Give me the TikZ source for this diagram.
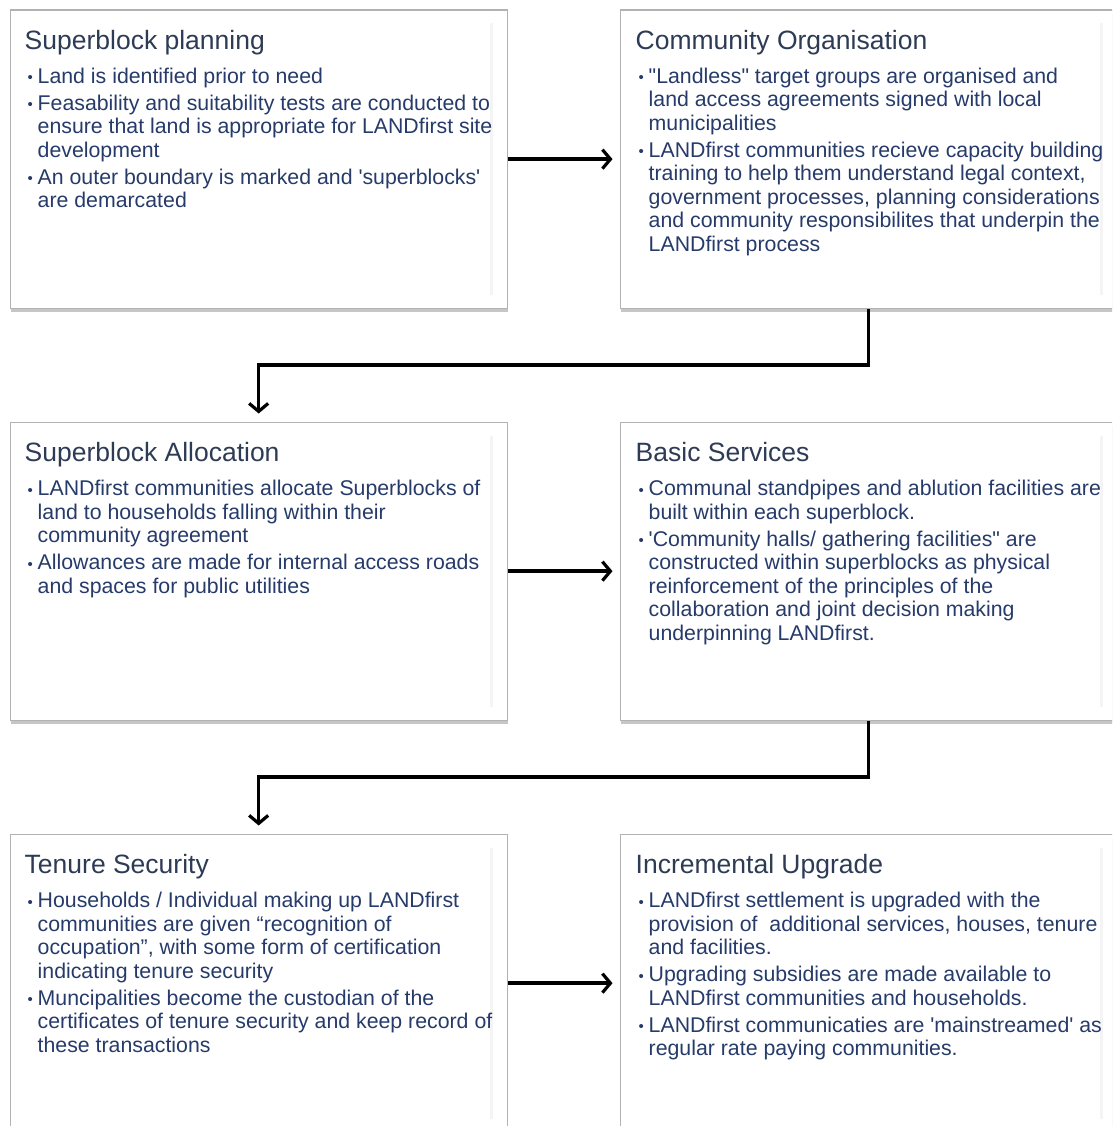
\documentclass[tikz,border=0pt]{standalone}
\usepackage{fontspec}
\newfontfamily\lib{Liberation Sans}
\usetikzlibrary{arrows.meta,shadows,calc}
\definecolor{titlecol}{HTML}{2E3B55}
\definecolor{bodycol}{HTML}{263B6A}
\newcommand{\bitem}[1]{\par\noindent\hangindent=10pt\hangafter=1\makebox[10pt][l]{\raisebox{0.5pt}{\fontsize{15}{15}\selectfont •}}#1}
\newcommand{\bulletlist}[1]{\parbox[t]{600pt}{\fontsize{21.3}{23.5}\selectfont\setlength{\parskip}{3.5pt}#1}}
\tikzset{
  panel/.style={draw=gray!60, line width=1.3pt, fill=white, minimum width=497pt,
    minimum height=298pt, anchor=north west, inner sep=0pt,
    drop shadow={shadow xshift=0.5pt, shadow yshift=-3.5pt, opacity=0.45}},
  ttl/.style={anchor=base west, inner sep=0pt, font=\lib\fontsize{26.5}{30}\selectfont, text=titlecol},
  body/.style={anchor=base west, inner sep=0pt, font=\lib, text=bodycol},
  glow/.style={gray!9, line width=3pt},
  flow/.style={line width=3.6pt, -{Straight Barb[length=8pt,width=19pt,line width=3.2pt]}},
}
\begin{document}
\begin{tikzpicture}[x=1pt,y=-1pt]
\useasboundingbox (0,0) rectangle (1112,1126);
\clip (0,0) rectangle (1112,1126);

\node[panel] (p1) at (9.5,9.5) {};
\node[panel] (p2) at (619.5,9.5) {};
\node[panel] (p3) at (9.5,421.5) {};
\node[panel] (p4) at (619.5,421.5) {};
\node[panel] (p5) at (9.5,833.5) {};
\node[panel] (p6) at (619.5,833.5) {};

\foreach \p in {p1,p2,p3,p4,p5,p6}{
  \draw[glow] ($(\p.north east)+(-16,14)$) -- ($(\p.south east)+(-16,-14)$);
}

\node[ttl] (t1) at ($(p1.north west)+(15,40)$) {Superblock planning};
\node[body] (b1) at ($(p1.north west)+(18,74)$) {\bulletlist{%
\bitem{Land is identified prior to need}
\bitem{Feasability and suitability tests are conducted to\\ensure that land is appropriate for LANDfirst site\\development}
\bitem{An outer boundary is marked and 'superblocks'\\are demarcated}}};

\node[ttl] (t2) at ($(p2.north west)+(16,40)$) {Community Organisation};
\node[body] (b2) at ($(p2.north west)+(19,74)$) {\bulletlist{%
\bitem{"Landless" target groups are organised and\\land access agreements signed with local\\municipalities}
\bitem{LANDfirst communities recieve capacity building\\training to help them understand legal context,\\government processes, planning considerations\\and community responsibilites that underpin the\\LANDfirst process}}};

\node[ttl] (t3) at ($(p3.north west)+(15,40)$) {Superblock Allocation};
\node[body] (b3) at ($(p3.north west)+(18,74)$) {\bulletlist{%
\bitem{LANDfirst communities allocate Superblocks of\\land to households falling within their\\community agreement}
\bitem{Allowances are made for internal access roads\\and spaces for public utilities}}};

\node[ttl] (t4) at ($(p4.north west)+(16,40)$) {Basic Services};
\node[body] (b4) at ($(p4.north west)+(19,74)$) {\bulletlist{%
\bitem{Communal standpipes and ablution facilities are\\built within each superblock.}
\bitem{'Community halls/ gathering facilities" are\\constructed within superblocks as physical\\reinforcement of the principles of the\\collaboration and joint decision making\\underpinning LANDfirst.}}};

\node[ttl] (t5) at ($(p5.north west)+(15,40)$) {Tenure Security};
\node[body] (b5) at ($(p5.north west)+(18,74)$) {\bulletlist{%
\bitem{Households / Individual making up LANDfirst\\communities are given “recognition of\\occupation”, with some form of certification\\indicating tenure security}
\bitem{Muncipalities become the custodian of the\\certificates of tenure security and keep record of\\these transactions}}};

\node[ttl] (t6) at ($(p6.north west)+(16,40)$) {Incremental Upgrade};
\node[body] (b6) at ($(p6.north west)+(19,74)$) {\bulletlist{%
\bitem{LANDfirst settlement is upgraded with the\\provision of~ additional services, houses, tenure\\and facilities.}
\bitem{Upgrading subsidies are made available to\\LANDfirst communities and households.}
\bitem{LANDfirst communicaties are 'mainstreamed' as\\regular rate paying communities.}}};

\coordinate (m1) at ($(p2.south)!0.5!(p3.north)$);
\coordinate (m2) at ($(p4.south)!0.5!(p5.north)$);

\draw[flow, shorten >=7pt] (p1.east) -- (p2.west);
\draw[flow, shorten >=7pt] (p3.east) -- (p4.west);
\draw[flow, shorten >=7pt] (p5.east) -- (p6.west);
\draw[flow, shorten >=8pt] (p2.south) -- (p2.south |- m1) -| (p3.north);
\draw[flow, shorten >=8pt] (p4.south) -- (p4.south |- m2) -| (p5.north);
\end{tikzpicture}
\end{document}
